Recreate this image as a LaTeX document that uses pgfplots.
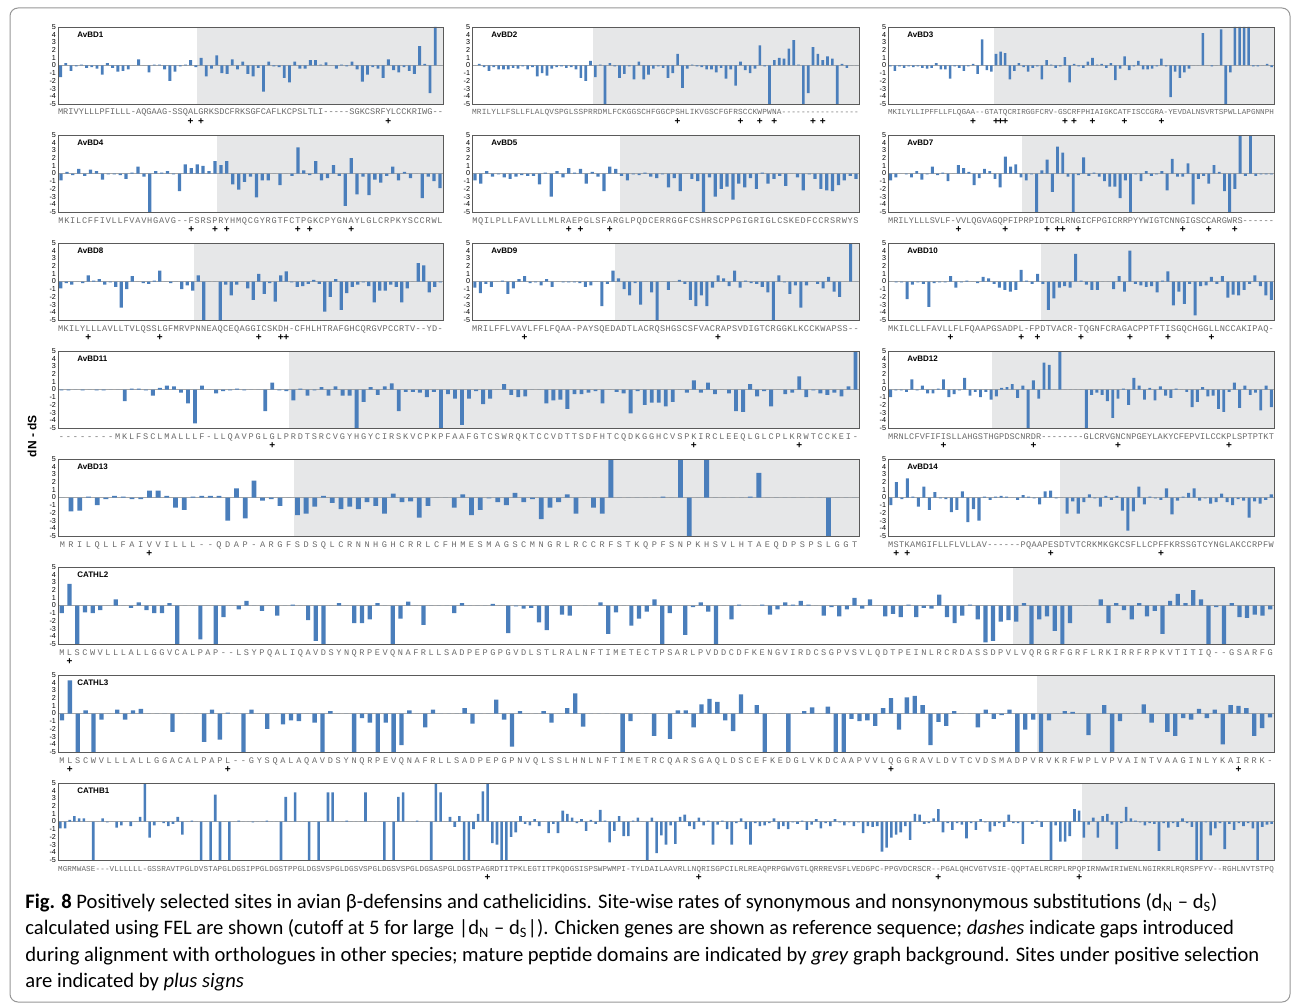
\documentclass[border=0pt]{standalone}
\usepackage{fontspec}
\setmainfont{Carlito}
\newfontfamily\arialf{Liberation Sans}
\newfontfamily\monof{Liberation Mono}
\usepackage{xstring}
\usepackage{pgfplots}
\pgfplotsset{compat=1.18}

\definecolor{barblue}{RGB}{74,126,187}
\definecolor{bggray}{RGB}{230,231,232}
\definecolor{axgray}{RGB}{90,90,90}
\definecolor{zerogray}{RGB}{165,165,165}
\definecolor{seqgray}{RGB}{105,105,105}
\definecolor{framegray}{RGB}{150,150,150}

% one letter of the current sequence under each bar
\newcommand{\seqchar}[1]{\StrChar{\curseq}{\the\numexpr#1+1\relax}}
\newcommand{\seqfont}[1]{\monof\fontsize{#1}{#1}\selectfont}

\pgfplotsset{
  pan/.style={
    scale only axis, height=38.5pt, anchor=north west,
    ymin=-5, ymax=5, ytick={-5,-4,...,5}, xmin=-0.5,
    tickwidth=0pt, axis on top,
    axis line style={axgray, line width=0.4pt},
    yticklabel style={font=\arialf\fontsize{3.6}{4}\selectfont, inner sep=0.8pt},
    xticklabel={\seqchar{\ticknum}},
    xticklabel style={font=\seqfont{4.3}, text=seqgray, inner sep=0pt, text height=3pt, text depth=0.8pt, anchor=north, yshift=-2.3pt},
    extra x tick style={xticklabel style={text=black, font=\arialf\bfseries\fontsize{5}{5}\selectfont, yshift=-4.6pt}},
    /pgf/number format/assume math mode=true,
  },
  bars/.style={ybar, bar width=0.55, fill=barblue, draw=none},
  /pgfplots/table/seqtab/.style={row sep=\\, header=false, x expr=\coordindex, y index=0},
}
\tikzset{ttl/.style={anchor=west, inner sep=0pt, xshift=9.5pt, yshift=-4pt, font=\arialf\bfseries\fontsize{4}{5}\selectfont}}

% grey mature-peptide background, zero line, panel name
\newcommand{\deco}[2]{%
  \fill[bggray] (axis cs:#1,-5) rectangle (rel axis cs:1,1);
  \draw[zerogray, line width=0.7pt] (rel axis cs:0,0.5) -- (rel axis cs:1,0.5);
  \node[ttl] at (rel axis cs:0,1) {#2};}

\begin{document}
\begin{tikzpicture}
\useasboundingbox (0,0) rectangle (647.5pt,-503pt);
\draw[framegray, line width=0.5pt, rounded corners=4pt] (5pt,-4pt) rectangle (645pt,-501pt);

%% row 1
\def\curseq{MRIVYLLLPFILLL-AQGAAG-SSQALGRKSDCFRKSGFCAFLKCPSLTLI-----SGKCSRFYLCCKRIWG--}
\begin{axis}[pan, at={(29pt,-13.5pt)}, width=192.5pt, xmax=73.5, xtick={0,...,73},
  extra x ticks={25,27,63}, extra x tick labels={+,+,+}]
\deco{26.2}{AvBD1}
\addplot[bars] table[seqtab] {
-1.5\\0.3\\-0.7\\-0.1\\0.1\\-0.3\\-0.2\\-0.4\\-1.2\\0.3\\
-0.3\\-0.8\\-0.7\\-0.5\\0\\0.8\\0\\-0.9\\0.1\\0.1\\
-0.5\\-2.0\\-0.8\\-0.1\\0.1\\0.7\\-0.2\\1.0\\-1.4\\-0.4\\
1.3\\-1.0\\-1.1\\0.8\\-0.5\\0.5\\-1.1\\-1.4\\-0.3\\-3.4\\
0.5\\-0.1\\-0.2\\-1.6\\-2.2\\0.5\\-0.4\\-0.4\\0.7\\0.7\\
0.1\\0.4\\0\\-0.4\\0.1\\-0.1\\0.5\\-0.5\\-2.1\\-1.2\\
-0.2\\-0.4\\-1.6\\0.8\\-0.6\\-0.9\\-0.2\\-0.7\\-1.1\\2.5\\
0.2\\-3.6\\5\\0\\
};
\end{axis}

\def\curseq{MRILYLLFSLLFLALQVSPGLSSPRRDMLFCKGGSCHFGGCPSHLIKVGSCFGFRSCCKWPWNA----------------}
\begin{axis}[pan, at={(236pt,-13.5pt)}, width=193.5pt, xmax=79.5, xtick={0,...,79},
  xticklabel style={font=\seqfont{3.9}},
  extra x ticks={42,55,59,62,70,72}, extra x tick labels={+,+,+,+,+,+}]
\deco{24.5}{AvBD2}
\addplot[bars] table[seqtab] {
0\\0.2\\-0.2\\-0.7\\-0.2\\-0.5\\-0.5\\-0.5\\-0.3\\-0.4\\
-0.1\\-0.5\\-0.2\\-1.4\\-1.0\\-1.3\\-0.4\\-0.2\\-0.1\\-0.3\\
-0.2\\-0.5\\-1.6\\-2.0\\0.6\\-1.5\\0.1\\-5\\0.3\\-0.1\\
-1.6\\-1.1\\-0.1\\-1.8\\0.5\\-1.8\\-1.2\\-0.4\\-0.1\\-0.3\\
-1.6\\-1.0\\1.5\\-2.9\\-0.4\\0.1\\-0.1\\-0.2\\-0.5\\-0.5\\
-0.9\\-0.3\\-1.7\\-0.5\\-2.6\\0.5\\-0.6\\-1.0\\-0.4\\2.6\\
-0.1\\-5\\0.7\\1.0\\0.9\\2.2\\3.3\\0.1\\-5\\-3.6\\
2.4\\1.5\\0.7\\1.2\\0.9\\-5\\0.2\\-0.3\\0\\0\\
};
\end{axis}

\def\curseq{MKILYLLIPFFLLFLQGAA--GTATQCRIRGGFCRV-GSCRFPHIAIGKCATFISCCGRA-YEVDALNSVRTSPWLLAPGNNPH}
\begin{axis}[pan, at={(444pt,-13.5pt)}, width=193pt, xmax=83.5, xtick={0,...,83},
  xticklabel style={font=\seqfont{3.8}},
  extra x ticks={18,23,24,25,38,40,44,51,59}, extra x tick labels={+,+,+,+,+,+,+,+,+}]
\deco{22.5}{AvBD3}
\addplot[bars] table[seqtab] {
-0.1\\-0.7\\-0.1\\-0.3\\-0.1\\-0.2\\-0.1\\-0.3\\-0.4\\-0.3\\
0.3\\-0.5\\-0.5\\-1.7\\-0.1\\-0.3\\-0.7\\-0.1\\0.2\\-1.1\\
3.4\\-0.6\\-0.8\\1.5\\1.8\\1.6\\-1.8\\-0.7\\0.3\\-0.2\\
-0.8\\-0.3\\-0.1\\-1.8\\0.7\\0.1\\-0.3\\-0.1\\1.1\\-2.2\\
0.2\\-0.1\\-0.3\\0.5\\1.0\\0.1\\0.2\\-0.3\\0.3\\-1.9\\
-0.4\\1.2\\-0.6\\-0.1\\0.6\\-0.5\\-0.5\\-0.4\\-0.1\\0.9\\
-0.1\\-4.1\\-0.8\\-1.6\\-0.9\\-0.4\\0\\0\\4.2\\0\\
-0.1\\0\\4.7\\-5\\-0.9\\5\\5\\5\\5\\-0.1\\
-0.1\\0\\0.2\\-0.2\\
};
\end{axis}

%% row 2
\def\curseq{MKILCFFIVLLFVAVHGAVG--FSRSPRYHMQCGYRGTFCTPGKCPYGNAYLGLCRPKYSCCRWL}
\begin{axis}[pan, at={(29pt,-67.5pt)}, width=192.5pt, xmax=64.5, xtick={0,...,64},
  extra x ticks={22,26,28,40,42,49}, extra x tick labels={+,+,+,+,+,+}]
\deco{26.3}{AvBD4}
\addplot[bars] table[seqtab] {
-0.9\\0.2\\-0.2\\0.6\\-0.3\\0.5\\0.3\\-0.8\\-0.1\\-0.1\\
-0.2\\-0.7\\0.1\\0.9\\-0.4\\-5\\0.3\\0.1\\0.3\\-0.1\\
-2.3\\1.2\\0.7\\1.2\\1.0\\0.3\\1.6\\1.1\\1.6\\-1.4\\
-2.1\\-1.1\\-0.4\\-3.1\\-0.9\\-0.9\\0\\-1.5\\0\\-0.3\\
3.4\\0.4\\-0.2\\1.6\\-0.9\\-0.6\\1.1\\-0.3\\-4.2\\2.0\\
-2.7\\-0.4\\-2.8\\-0.8\\-1.2\\-0.3\\0.9\\-0.9\\0.2\\-0.6\\
0\\-3.2\\-0.4\\-1.0\\-1.9\\
};
\end{axis}

\def\curseq{MQILPLLFAVLLLMLRAEPGLSFARGLPQDCERRGGFCSHRSCPPGIGRIGLCSKEDFCCRSRWYS}
\begin{axis}[pan, at={(236pt,-67.5pt)}, width=193.5pt, xmax=65.5, xtick={0,...,65},
  extra x ticks={16,18,23}, extra x tick labels={+,+,+}]
\deco{24.7}{AvBD5}
\addplot[bars] table[seqtab] {
-0.9\\-1.3\\0.3\\-0.4\\-0.1\\-0.5\\-0.7\\-0.4\\-0.2\\-0.3\\
-0.3\\-1.4\\0.1\\-3.0\\0.3\\-0.5\\0.7\\0.1\\0.6\\-1.3\\
0.2\\-0.4\\-2.3\\0.9\\0.6\\-0.3\\-0.9\\-0.1\\-0.2\\0.1\\
-0.4\\-0.6\\-0.1\\-1.8\\-0.6\\-2.3\\0\\-0.7\\-1.0\\-5\\
-0.5\\-3.0\\-2.0\\-1.7\\-3.4\\-1.3\\-1.8\\-0.6\\-2.0\\0.1\\
-1.3\\-0.7\\-0.3\\-1.6\\0\\-0.5\\-2.2\\-0.1\\-0.7\\-2.0\\
-2.2\\-2.3\\-1.5\\-0.9\\-0.3\\-0.7\\
};
\end{axis}

\def\curseq{MRILYLLLSVLF-VVLQGVAGQPFIPRPIDTCRLRNGICFPGICRRPYYWIGTCNNGIGSCCARGWRS------}
\begin{axis}[pan, at={(444pt,-67.5pt)}, width=193pt, xmax=73.5, xtick={0,...,73},
  extra x ticks={13,22,30,32,33,36,56,61,66}, extra x tick labels={+,+,+,+,+,+,+,+,+}]
\deco{25.1}{AvBD7}
\addplot[bars] table[seqtab] {
-0.9\\-0.5\\0\\-0.1\\-0.5\\0.3\\-0.8\\-0.1\\0.9\\-0.2\\
0.1\\-1.0\\0\\1.1\\0.7\\0.2\\-1.5\\-0.6\\0.6\\0.3\\
-0.7\\-1.8\\2.2\\0.9\\1.2\\-0.5\\-0.9\\-0.1\\-5\\0.4\\
1.8\\-2.4\\3.5\\2.7\\-0.4\\-5\\-0.2\\2.1\\-0.3\\0.1\\
-0.4\\-1.0\\-1.7\\-1.7\\-3.2\\-0.9\\-5\\-0.1\\-1.0\\0.3\\
-0.3\\-0.1\\0.3\\-2.2\\1.9\\-0.4\\-0.4\\1.3\\-4.0\\-0.7\\
-0.3\\-1.3\\1.1\\0.2\\-2.3\\-5\\-2.0\\5\\-0.3\\5\\
-0.3\\-0.1\\-0.1\\-0.1\\
};
\end{axis}

%% row 3
\def\curseq{MKILYLLLAVLLTVLQSSLGFMRVPNNEAQCEQAGGICSKDH-CFHLHTRAFGHCQRGVPCCRTV--YD-}
\begin{axis}[pan, at={(29pt,-121.5pt)}, width=192.5pt, xmax=69.5, xtick={0,...,69},
  extra x ticks={5,18,36,40,41}, extra x tick labels={+,+,+,+,+}]
\deco{24.3}{AvBD8}
\addplot[bars] table[seqtab] {
-0.9\\-0.2\\-0.4\\0\\-0.2\\0.8\\0.1\\0.3\\-0.4\\-0.1\\
-0.7\\-3.4\\-1.0\\0.7\\0\\-0.2\\-0.3\\0.1\\1.4\\0\\
-0.2\\0\\-1.0\\-0.5\\-1.2\\0.8\\-5\\0\\0\\-5\\
-0.4\\-1.8\\-0.4\\0\\-0.9\\-2.4\\1.0\\-1.6\\-0.2\\-2.6\\
0.8\\1.3\\-0.1\\-0.7\\-0.6\\-0.3\\0.2\\-0.3\\-3.9\\-2.0\\
0.3\\-3.7\\-1.5\\-0.7\\-0.4\\-0.1\\-0.6\\-2.7\\-1.2\\-1.2\\
-0.4\\-0.7\\-2.7\\-0.9\\0\\2.4\\2.1\\-1.4\\-0.7\\-0.1\\
};
\end{axis}

\def\curseq{MRILFFLVAVLFFLFQAA-PAYSQEDADTLACRQSHGSCSFVACRAPSVDIGTCRGGKLKCCKWAPSS--}
\begin{axis}[pan, at={(236pt,-121.5pt)}, width=193.5pt, xmax=69.5, xtick={0,...,69},
  extra x ticks={9,44}, extra x tick labels={+,+}]
\deco{25.4}{AvBD9}
\addplot[bars] table[seqtab] {
-0.8\\-1.5\\-0.3\\-0.7\\0\\0.1\\-1.6\\-0.9\\0.3\\0.7\\
-0.2\\-0.1\\-0.5\\0.3\\-0.7\\0\\-0.1\\-0.1\\-0.1\\-0.2\\
-0.7\\-0.5\\0\\-3.2\\-0.3\\1.4\\0.4\\-1.0\\-1.8\\-0.2\\
-3.0\\0\\-1.4\\-5\\0\\-1.1\\0\\0.2\\-0.3\\-2.4\\
-3.2\\-1.8\\-3.2\\-0.8\\0.8\\0.4\\-0.6\\1.4\\-0.8\\0.1\\
-0.2\\-0.3\\-0.7\\-1.4\\-5\\0.8\\-0.1\\-1.6\\-0.5\\-3.4\\
-0.5\\0\\-0.3\\-0.9\\0.6\\-1.3\\-2.0\\0\\5\\0\\
};
\end{axis}

\def\curseq{MKILCLLFAVLLFLFQAAPGSADPL-FPDTVACR-TQGNFCRAGACPPTFTISGQCHGGLLNCCAKIPAQ-}
\begin{axis}[pan, at={(444pt,-121.5pt)}, width=193pt, xmax=70.5, xtick={0,...,70},
  extra x ticks={11,24,27,35,44,51,59}, extra x tick labels={+,+,+,+,+,+,+}]
\deco{27.6}{AvBD10}
\addplot[bars] table[seqtab] {
0\\-0.1\\-0.1\\-2.3\\-0.4\\-0.1\\-0.3\\-3.3\\-0.2\\-0.1\\
-0.1\\0.7\\-0.8\\-0.1\\0.1\\0\\-0.2\\0.6\\0.4\\-0.3\\
-0.8\\-1.1\\-1.3\\-1.1\\1.5\\0.1\\-0.3\\1.0\\-0.3\\-3.7\\
-2.2\\-0.8\\-0.6\\-0.8\\3.6\\0.1\\-0.4\\-1.1\\-1.1\\0\\
0\\-1.0\\0.7\\-1.3\\4.0\\-0.3\\-0.5\\-0.7\\-0.6\\-1.4\\
0.1\\1.3\\-3.1\\-1.3\\-2.9\\-0.3\\-4.4\\-0.6\\-0.5\\0.6\\
-0.3\\0.7\\-2.1\\-1.7\\-1.8\\-1.1\\-0.3\\0.8\\-0.6\\-1.8\\
-2.4\\
};
\end{axis}

%% row 4
\def\curseq{--------MKLFSCLMALLLF-LLQAVPGLGLPRDTSRCVGYHGYCIRSKVCPKPFAAFGTCSWRQKTCCVDTTSDFHTCQDKGGHCVSPKIRCLEEQLGLCPLKRWTCCKEI-}
\begin{axis}[pan, at={(29pt,-175.5pt)}, width=400.5pt, xmax=113.5, xtick={0,...,113},
  extra x ticks={30,90,105}, extra x tick labels={+,+,+}]
\deco{32.4}{AvBD11}
\addplot[bars] table[seqtab] {
-0.1\\-0.1\\0\\-0.1\\0\\-0.1\\-0.1\\0\\0\\-1.5\\
0.1\\0.1\\-0.1\\-0.8\\0.2\\0.5\\0.4\\-0.4\\-1.8\\-4.4\\
0.5\\0\\-0.5\\-0.2\\-0.1\\0.1\\-0.1\\0\\0\\-2.8\\
0.9\\-0.1\\-0.2\\-1.4\\0.1\\-0.8\\-0.1\\0.3\\-0.8\\0.4\\
-0.8\\-0.8\\-5\\-1.6\\0.3\\-0.7\\0.4\\0.8\\-2.8\\-0.3\\
-0.3\\-0.4\\-1.0\\-0.3\\-5\\-0.6\\-1.2\\-4.6\\-1.2\\-0.2\\
-1.9\\-1.2\\0\\0.7\\-0.7\\-1.0\\-0.9\\0\\0\\-1.8\\
-1.4\\-1.3\\-2.5\\-0.6\\-0.6\\-0.4\\-0.2\\-1.8\\0\\-0.3\\
-0.5\\-3.1\\-0.2\\-2.0\\-1.7\\-1.7\\-2.2\\-1.6\\0\\-0.4\\
1.2\\-0.4\\0.9\\-0.6\\0\\-0.5\\-2.8\\-2.9\\0.7\\-0.9\\
-0.2\\-2.2\\0\\-0.6\\-0.4\\1.7\\-1.0\\-0.1\\-0.5\\-0.7\\
-0.4\\-0.9\\0.4\\5\\
};
\end{axis}

\def\curseq{MRNLCFVFIFISLLAHGSTHGPDSCNRDR--------GLCRVGNCNPGEYLAKYCFEPVILCCKPLSPTPTKT}
\begin{axis}[pan, at={(444pt,-175.5pt)}, width=193pt, xmax=72.5, xtick={0,...,72},
  extra x ticks={10,27,43,64}, extra x tick labels={+,+,+,+}]
\deco{19.2}{AvBD12}
\addplot[bars] table[seqtab] {
-1.0\\-0.1\\-0.1\\-0.3\\1.3\\-0.1\\0.5\\-0.5\\-0.5\\0.1\\
1.3\\-1.0\\-0.6\\-0.1\\1.5\\-0.8\\-0.3\\-1.0\\-0.3\\-1.3\\
-0.9\\0.2\\0.3\\0.7\\-1.1\\0.5\\-5\\1.2\\-1.2\\3.5\\
3.2\\0\\5\\0\\0\\0\\0\\-5\\-0.7\\-0.4\\
-0.7\\-1.5\\-3.7\\-1.2\\0.1\\-2.0\\1.5\\0.5\\-1.3\\0.2\\
-1.4\\0.4\\-0.8\\-1.1\\0.1\\0\\-0.3\\-2.3\\-1.6\\0.3\\
-0.9\\-0.8\\-2.5\\-2.9\\-0.3\\0.9\\-2.4\\0.5\\-0.7\\-0.4\\
-2.7\\0.5\\-2.3\\
};
\end{axis}

%% row 5
\def\curseq{MRILQLLFAIVVILLL--QDAP-ARGFSDSQLCRNNHGHCRRLCFHMESMAGSCMNGRLRCCRFSTKQPFSNPKHSVLHTAEQDPSPSLGGT}
\begin{axis}[pan, at={(29pt,-229.5pt)}, width=400.5pt, xmax=91.5, xtick={0,...,91},
  extra x ticks={10}, extra x tick labels={+}]
\deco{26.6}{AvBD13}
\addplot[bars] table[seqtab] {
0\\-1.8\\-1.7\\0.1\\-1.0\\-0.2\\0.2\\0.1\\-0.2\\-0.2\\
0.9\\0.9\\0.2\\-1.3\\-1.6\\0.1\\0.2\\0.2\\0.2\\-3.0\\
1.2\\-2.7\\2.2\\-0.4\\-0.2\\-1.1\\0\\-2.3\\-2.1\\-1.2\\
0.2\\-0.7\\-1.5\\-1.2\\-1.5\\-0.6\\-1.1\\-2.1\\0.5\\-0.6\\
-0.5\\-2.6\\-1.1\\0\\0\\-1.3\\0.4\\-2.3\\-1.6\\-0.1\\
-0.6\\-1.0\\0.6\\-0.6\\-0.2\\-2.8\\-1.3\\-0.6\\0.4\\-2.1\\
0\\-1.3\\-2.1\\5\\0\\0\\0\\0\\0\\0.1\\
0\\5\\-5\\0\\5\\0\\0\\0\\0\\0.1\\
3.2\\0\\0\\0\\0\\0\\0\\0\\-5\\0\\
0\\0\\
};
\end{axis}

\def\curseq{MSTKAMGIFLLFLVLLAV------PQAAPESDTVTCRKMKGKCSFLLCPFFKRSSGTCYNGLAKCCRPFW}
\begin{axis}[pan, at={(444pt,-229.5pt)}, width=193pt, xmax=69.5, xtick={0,...,69},
  extra x ticks={1,3,29,49}, extra x tick labels={+,+,+,+}]
\deco{30.6}{AvBD14}
\addplot[bars] table[seqtab] {
-1.0\\2.0\\-0.2\\2.5\\0.1\\-1.2\\1.4\\-1.6\\0.7\\-0.1\\
-0.2\\-1.9\\-1.6\\0.8\\-3.2\\-1.5\\-3.0\\0.1\\-0.3\\0.1\\
0.2\\0.1\\0\\-0.3\\0.3\\0.1\\-0.1\\-0.9\\0.8\\0.9\\
-0.1\\0\\-2.1\\-0.5\\-2.1\\-0.6\\0.4\\-0.1\\-1.2\\0.2\\
-0.3\\0.2\\-1.7\\-4.3\\-1.8\\1.4\\-0.9\\0.1\\-0.1\\-0.3\\
1.2\\-2.2\\-0.4\\0.1\\0.6\\1.2\\-0.4\\-0.1\\-0.8\\-0.6\\
0.5\\-0.6\\-1.0\\-0.2\\-0.4\\-2.6\\-0.5\\-0.8\\-0.3\\0.4\\
};
\end{axis}

%% row 6
\def\curseq{MLSCWVLLLALLGGVCALPAP--LSYPQALIQAVDSYNQRPEVQNAFRLLSADPEPGPGVDLSTLRALNFTIMETECTPSARLPVDDCDFKENGVIRDCSGPVSVLQDTPEINLRCRDASSDPVLVQRGRFGRFLRKIRRFRPKVTITIQ--GSARFG}
\begin{axis}[pan, at={(29pt,-283.5pt)}, width=608pt, xmax=157.5, xtick={0,...,157},
  extra x ticks={1}, extra x tick labels={+}]
\deco{123.6}{CATHL2}
\addplot[bars] table[seqtab] {
-1.0\\2.8\\-5\\-0.9\\-1.0\\-0.6\\0\\0.8\\0\\-0.3\\
0.4\\-0.6\\-1.0\\-1.0\\0.3\\-5\\0\\0\\-4.4\\0\\
-5\\-1.5\\0\\-0.5\\0.6\\0\\-0.7\\0\\-1.3\\0\\
0.1\\0\\-1.9\\-4.6\\-5\\0\\0.3\\0\\-2.3\\-2.3\\
-1.8\\0.3\\0\\-5\\-1.7\\0.5\\0\\-2.5\\0\\0\\
0\\-1.0\\0.3\\0\\0\\0\\0.2\\0\\-3.6\\-0.1\\
-0.4\\-0.3\\-2.2\\-3.2\\0\\-1.2\\-1.3\\0\\0\\0\\
0.4\\-3.7\\-0.9\\0\\-2.6\\-1.7\\-0.8\\0.8\\-5\\-1.0\\
0\\-3.8\\-0.2\\0.4\\-0.8\\-5\\0\\-1.8\\0.1\\0\\
0\\0.1\\-1.2\\-0.5\\0.4\\0.1\\0.6\\0.1\\0\\-1.3\\
-0.2\\-1.4\\-0.5\\1.0\\-0.4\\0.8\\0\\-1.4\\-1.1\\-1.5\\
0.1\\-1.5\\-0.3\\-0.4\\1.4\\-1.5\\-2.3\\-1.3\\0.1\\-1.8\\
-4.8\\-4.6\\-2.1\\-1.9\\-2.1\\0.3\\-5\\-1.8\\-1.4\\-3.3\\
-5\\-2.3\\0\\0\\0\\0.8\\-2.3\\0.3\\-0.6\\-1.8\\
0.3\\-1.4\\-0.7\\-3.7\\0.6\\1.5\\0.3\\2.0\\0.8\\-5\\
-0.2\\-5\\0.3\\-1.5\\-1.6\\-1.2\\-1.3\\-0.5\\
};
\end{axis}

%% row 7
\def\curseq{MLSCWVLLLALLGGACALPAPL--GYSQALAQAVDSYNQRPEVQNAFRLLSADPEPGPNVQLSSLHNLNFTIMETRCQARSGAQLDSCEFKEDGLVKDCAAPVVLQGGRAVLDVTCVDSMADPVRVKRFWPLVPVAINTVAAGINLYKAIRRK-}
\begin{axis}[pan, at={(29pt,-337.5pt)}, width=608pt, xmax=153.5, xtick={0,...,153},
  extra x ticks={1,21,105,149}, extra x tick labels={+,+,+,+}]
\deco{123.5}{CATHL3}
\addplot[bars] table[seqtab] {
-0.9\\4.3\\-5\\0.4\\-5\\-0.8\\0\\0.5\\-0.8\\0.4\\
0.6\\0\\0\\0\\-2.4\\0\\0\\0\\-3.7\\0.5\\
-3.4\\0.1\\0\\-5\\0.5\\0\\-2.0\\0\\-1.4\\-0.9\\
-1.0\\0\\-1.2\\-5\\0.3\\0\\0\\-5\\-0.6\\-1.2\\
-5\\-1.2\\-5\\-4.1\\0.4\\0\\-1.8\\0.5\\0\\0\\
0\\0.7\\-1.3\\0\\0\\1.8\\-0.8\\-4.3\\0.3\\0\\
0\\0.3\\-1.2\\0\\0.7\\2.6\\-1.7\\0\\0\\0\\
0\\-5\\-1.0\\0\\0\\-2.9\\0\\-3.3\\0.4\\0.4\\
-1.8\\1.2\\1.9\\1.5\\-0.9\\-2.3\\2.5\\0\\1.1\\-5\\
0\\0\\-5\\0\\0.3\\0.8\\0\\0.9\\-5\\-5\\
-0.7\\-1.0\\-0.9\\-1.6\\0.7\\2.0\\-2.1\\2.1\\2.3\\1.1\\
-4.1\\-1.1\\-1.6\\0.3\\0\\0\\-1.8\\0.5\\-0.7\\-0.2\\
0.5\\-5\\-2.1\\-0.8\\-5\\-0.9\\0\\0.3\\0.2\\0\\
-2.8\\0\\1.1\\-5\\-1.0\\0\\0\\1.2\\-1.2\\0\\
-2.4\\-2.9\\-0.6\\-0.8\\0.6\\-0.6\\0.5\\-4.0\\1.1\\1.0\\
0.7\\-2.9\\-1.9\\-0.5\\
};
\end{axis}

%% row 8
\def\curseq{MGRMWASE---VLLLLLL-GSSRAVTPGLDVSTAPGLDGSIPPGLDGSTPPGLDGSVSPGLDGSVSPGLDGSVSPGLDGSASPGLDGSTPAGRDTITPKLEGTITPKQDGSISPSWPWMPI-TYLDAILAAVRLLNQRISGPCILRLREAQPRPGWVGTLQRRREVSFLVEDGPC-PPGVDCRSCR--PGALQHCVGTVSIE-QQPTAELRCRPLRPQPIRNWWIRIWENLNGIRKRLRQRSPFYV--RGHLNVTSTPQ}
\begin{axis}[pan, at={(29pt,-391.5pt)}, width=608pt, xmax=258.5, xtick={0,...,258},
  xticklabel style={font=\seqfont{3.8}},
  extra x ticks={91,136,187,217}, extra x tick labels={+,+,+,+}]
\deco{217.5}{CATHB1}
\addplot[bars] table[seqtab] {
-0.9\\-0.9\\0.2\\0.7\\0.4\\0.4\\0\\-5\\0\\0.4\\
-0.1\\0\\-0.8\\-0.5\\0\\-0.6\\0\\0.6\\5\\-2.1\\
-0.5\\0\\-0.2\\-0.6\\-0.3\\0.6\\-1.7\\0\\0.1\\0\\
-5\\0\\-5\\3.5\\-5\\0\\-5\\0\\0.1\\0\\
0\\-0.1\\0\\0\\0.1\\0\\0\\-5\\3.2\\0\\
3.8\\0\\0\\-5\\0\\-5\\0\\3.8\\3.8\\0\\
0\\0.1\\0\\0\\0\\3.8\\0\\0\\0\\-5\\
0\\-5\\3.2\\3.8\\0\\0\\0.1\\0\\0\\-5\\
5\\3.8\\0\\0.6\\-0.7\\0.7\\-5\\-5\\-1.0\\1.0\\
3.9\\5\\-2.8\\-3.0\\-5\\-5\\-2.0\\-1.4\\0.7\\-0.3\\
-0.5\\0.3\\-0.6\\0\\-1.5\\-0.3\\-1.5\\1.4\\1.0\\0.5\\
-0.2\\0.3\\-1.2\\0.2\\-0.3\\1.5\\0.1\\-2.7\\-1.2\\0.7\\
-1.9\\-1.9\\0.1\\0.5\\0\\-5\\0.5\\-4.1\\-1.8\\-3.0\\
-0.5\\-2.9\\0.6\\0.9\\-0.6\\-1.0\\0.5\\-0.5\\0.1\\-3.0\\
-0.4\\0.1\\-1.0\\-3.0\\-0.2\\0.4\\-1.0\\-3.0\\-0.2\\-0.6\\
-0.5\\-0.2\\0.4\\-1.0\\-0.6\\-1.0\\-0.1\\-0.3\\0.1\\-1.1\\
-0.4\\0.3\\-0.9\\-0.2\\-0.6\\0.3\\-0.1\\-0.5\\-0.1\\-0.6\\
-0.1\\-1.5\\-0.6\\-0.7\\-0.6\\-3.9\\-3.4\\-2.1\\-1.7\\-1.4\\
-0.6\\-2.4\\1.0\\0.9\\-0.3\\-0.2\\0.4\\1.6\\-1.4\\-0.2\\
-1.1\\-0.2\\-0.4\\-2.2\\-0.2\\-1.1\\0.3\\-0.1\\-1.3\\-0.6\\
-0.2\\-0.7\\0.9\\-0.2\\-0.2\\-2.9\\0\\-0.3\\0.1\\-0.7\\
0\\-5\\-0.5\\-2.6\\-2.6\\-1.9\\1.6\\1.4\\-2.1\\-0.4\\
0.5\\-2.1\\0.7\\1.0\\-0.4\\-3.6\\-0.2\\1.9\\0.4\\0.1\\
-0.1\\-0.5\\-0.2\\-0.3\\-3.8\\-0.2\\-0.8\\-0.2\\-0.7\\0.4\\
-0.2\\-0.7\\-5\\-5\\-0.1\\-1.8\\-0.9\\-0.2\\-3.6\\-0.3\\
-1.1\\-0.2\\-0.6\\-0.2\\-0.9\\-5\\-0.7\\-0.4\\-0.3\\
};
\end{axis}

\node[rotate=90, font=\arialf\bfseries\fontsize{6}{7}\selectfont] at (16pt,-218pt) {dN - dS};

\node[anchor=north west, align=left, inner sep=0pt, font=\fontsize{10.3}{13.25}\selectfont] at (12.5pt,-446.5pt)
{\textbf{Fig. 8} Positively selected sites in avian β-defensins and cathelicidins. Site-wise rates of synonymous and nonsynonymous substitutions (d\textsubscript{N} – d\textsubscript{S})\\
calculated using FEL are shown (cutoff at 5 for large |d\textsubscript{N} – d\textsubscript{S}|). Chicken genes are shown as reference sequence; \textit{dashes} indicate gaps introduced\\
during alignment with orthologues in other species; mature peptide domains are indicated by \textit{grey} graph background. Sites under positive selection\\
are indicated by \textit{plus signs}};
\end{tikzpicture}
\end{document}
